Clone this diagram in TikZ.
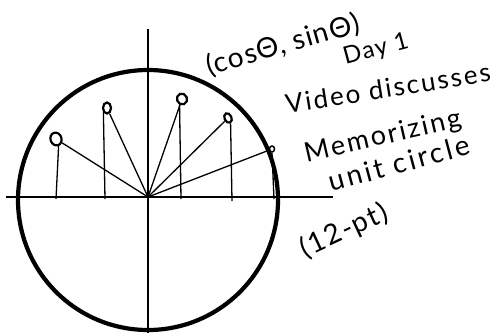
\documentclass[tikz,border=0pt]{standalone}
\usepackage{fontspec}
\setmainfont{Lato}
\usetikzlibrary{shapes.geometric}
\begin{document}
\begin{tikzpicture}[x=1pt,y=-1pt,
  axis/.style={line width=1.5pt},
  spoke/.style={line width=1.3pt},
  bigcirc/.style={line width=4.2pt},
  dot/.style={ellipse,draw,line width=2.2pt,inner sep=0pt},
  hand/.style={inner sep=0pt}]
\useasboundingbox (0,0) rectangle (495,333);
% axes
\coordinate (xl) at (6,197);
\coordinate (xr) at (333,197);
\coordinate (yt) at (148,29);
\coordinate (yb) at (148,333);
\coordinate (O) at (148,197);
\draw[axis] (xl) -- (xr);
\draw[axis] (yt) -- (yb);
% unit circle
\node[circle,draw,bigcirc,minimum size=260pt,inner sep=0pt] (uc) at (148,200) {};
% points
\node[dot,minimum width=11pt,minimum height=13pt,rotate=20] (c1) at (56,139) {};
\node[dot,minimum width=8pt,minimum height=11pt] (c2) at (107,108) {};
\node[dot,minimum width=10pt,minimum height=11pt,rotate=20] (c3) at (182,99) {};
\node[dot,minimum width=7pt,minimum height=10pt,rotate=25] (c4) at (228,118) {};
\node[dot,minimum width=5pt,minimum height=6pt,line width=1.5pt] (c5) at (272,149) {};
% feet
\coordinate (f1) at (56,199);
\coordinate (f2) at (105,199);
\coordinate (f3) at (181,199);
\coordinate (f4) at (232,201);
\coordinate (f5) at (274,199);
% spokes
\foreach \i in {1,...,5} {\draw[spoke] (O) -- (c\i);}
\draw[spoke] (c1.south) -- (f1);
\draw[spoke] (c2.south west) -- (f2);
\draw[spoke] (c3.south west) -- (f3);
\draw[spoke] (c4.south) -- (f4);
\draw[spoke] (c5.south) -- (f5);
% texts
\node[hand,rotate=16,font=\fontsize{28}{30}\selectfont\addfontfeature{LetterSpace=4}] (t1) at (283,45) {(cosΘ, sinΘ)};
\node[hand,rotate=15,font=\fontsize{24}{26}\selectfont\addfontfeature{LetterSpace=6}] (t2) at (376,50) {Day 1};
\node[hand,rotate=9,font=\fontsize{26}{28}\selectfont\addfontfeature{LetterSpace=8}] (t3) at (388,88) {Video discusses};
\node[hand,rotate=13,font=\fontsize{27}{29}\selectfont\addfontfeature{LetterSpace=8}] (t4) at (383,137) {Memorizing};
\node[hand,rotate=15,font=\fontsize{28}{30}\selectfont\addfontfeature{LetterSpace=10}] (t5) at (399,163) {unit circle};
\node[hand,rotate=25,font=\fontsize{28}{30}\selectfont\addfontfeature{LetterSpace=6}] (t6) at (344,231) {(12-pt)};
\end{tikzpicture}
\end{document}
